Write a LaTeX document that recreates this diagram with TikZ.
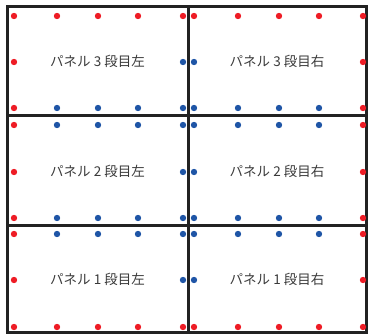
\documentclass[tikz,border=0pt]{standalone}
\usepackage{fontspec}
\newfontfamily\cjk{Noto Sans CJK JP}
\definecolor{dotred}{HTML}{EE1C25}
\definecolor{dotblue}{HTML}{1F55A6}
\definecolor{frame}{HTML}{222222}
\definecolor{txt}{HTML}{3A3A3A}
\begin{document}
\begin{tikzpicture}[x=1pt,y=1pt,
  panel/.style={draw=frame, line width=3pt, inner sep=0, text=txt,
    font=\cjk\fontsize{13.5pt}{15pt}\selectfont},
  dot/.style={circle, inner sep=0, minimum width=6pt, minimum height=6.4pt, draw=none}]
\useasboundingbox (0,0) rectangle (370,335);
% panels (y measured from top: 335 - y)
\node[panel, minimum width=181pt, minimum height=109pt] (p3l) at (97.5,273.5) {パネル 3 段目左};
\node[panel, minimum width=178pt, minimum height=109pt] (p3r) at (277,273.5) {パネル 3 段目右};
\node[panel, minimum width=181pt, minimum height=110pt] (p2l) at (97.5,164) {パネル 2 段目左};
\node[panel, minimum width=178pt, minimum height=110pt] (p2r) at (277,164) {パネル 2 段目右};
\node[panel, minimum width=181pt, minimum height=107pt] (p1l) at (97.5,55.5) {パネル 1 段目左};
\node[panel, minimum width=178pt, minimum height=107pt] (p1r) at (277,55.5) {パネル 1 段目右};
% dots
\foreach \r/\yt/\ym/\yb in {3/16/62/108, 2/125/172/218, 1/234/280/327} {
  \foreach \c in {0,1} {
    \foreach \i in {1,...,5} {
      \pgfmathtruncatemacro\xx{{14,57,98,138,183,194,238,279,319,363}[\c*5+\i-1]}
      \pgfmathtruncatemacro\outx{((\c==0)&&(\i==1))||((\c==1)&&(\i==5))}
      \pgfmathtruncatemacro\topred{(\outx==1)||(\r==3)}
      \pgfmathtruncatemacro\botred{(\outx==1)||(\r==1)}
      \ifnum\topred=1 \def\ct{dotred}\else\def\ct{dotblue}\fi
      \ifnum\botred=1 \def\cb{dotred}\else\def\cb{dotblue}\fi
      \ifnum\outx=1 \def\cm{dotred}\else\def\cm{dotblue}\fi
      \node[dot, fill=\ct] (d-\r-\c-\i-t) at (\xx,335-\yt) {};
      \node[dot, fill=\cb] (d-\r-\c-\i-b) at (\xx,335-\yb) {};
      \ifnum\i=1 \node[dot, fill=\cm] (d-\r-\c-\i-m) at (\xx,335-\ym) {};\fi
      \ifnum\i=5 \node[dot, fill=\cm] (d-\r-\c-\i-m) at (\xx,335-\ym) {};\fi
    }
  }
}
\end{tikzpicture}
\end{document}
